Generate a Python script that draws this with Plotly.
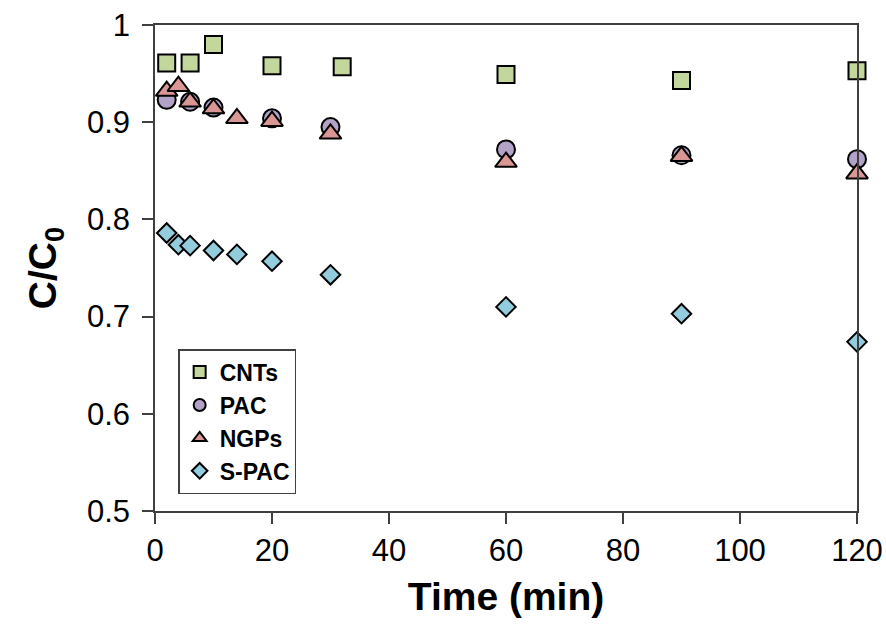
import plotly.graph_objects as go

# Data
cnt_t = [2, 6, 10, 20, 32, 60, 90, 120]
cnt_v = [0.961, 0.961, 0.980, 0.958, 0.957, 0.949, 0.943, 0.953]

pac_t = [2, 6, 10, 20, 30, 60, 90, 120]
pac_v = [0.923, 0.921, 0.915, 0.904, 0.895, 0.872, 0.866, 0.862]

ngp_t = [2, 4, 6, 10, 14, 20, 30, 60, 90, 120]
ngp_v = [0.932, 0.937, 0.921, 0.914, 0.904, 0.901, 0.888, 0.859, 0.865, 0.847]

spac_t = [2, 4, 6, 10, 14, 20, 30, 60, 90, 120]
spac_v = [0.786, 0.774, 0.773, 0.768, 0.764, 0.757, 0.743, 0.710, 0.703, 0.674]

series = [
    ("CNTs", cnt_t, cnt_v, "square", "#C3D69B", 17),
    ("PAC", pac_t, pac_v, "circle", "#B3A2C7", 18),
    ("NGPs", ngp_t, ngp_v, "triangle-up", "#D99694", 19),
    ("S-PAC", spac_t, spac_v, "diamond", "#93CDDD", 15),
]

fig = go.Figure()
for name, t, v, sym, col, sz in series:
    fig.add_trace(go.Scatter(
        x=t, y=v, mode="markers", name=name, cliponaxis=False,
        marker=dict(symbol=sym, color=col, size=sz,
                    line=dict(color="black", width=2)),
    ))

font_family = "Liberation Sans, Arial, sans-serif"
axis_common = dict(
    showline=True, linecolor="#404040", linewidth=1.5, mirror=True,
    ticks="outside", ticklen=11, tickwidth=1.5, tickcolor="#404040",
    showgrid=False, zeroline=False, automargin=False,
    tickfont=dict(family=font_family, size=31, color="black"),
)

fig.update_layout(
    width=886, height=624,
    margin=dict(l=155, r=29, t=25, b=113),
    paper_bgcolor="white", plot_bgcolor="white",
    font=dict(family=font_family, color="black"),
    xaxis=dict(range=[0, 120], dtick=20, tick0=0,
               title=dict(text="<b>Time (min)</b>", font=dict(size=39, family=font_family), standoff=16),
               **axis_common),
    yaxis=dict(range=[0.5, 1.0], dtick=0.1, tick0=0.5,
               title=dict(text="<b>C/C<sub>0</sub></b>", font=dict(size=39, family=font_family), standoff=18),
               ticklabelstandoff=6,
               **axis_common),
    legend=dict(
        x=0.033, y=0.333, xanchor="left", yanchor="top",
        bordercolor="#404040", borderwidth=1.5, bgcolor="white",
        font=dict(family=font_family, size=23, color="black", weight="bold"),
        itemsizing="constant", tracegroupgap=0, itemwidth=30,
    ),
    showlegend=True,
)

fig.write_html("out.html")
